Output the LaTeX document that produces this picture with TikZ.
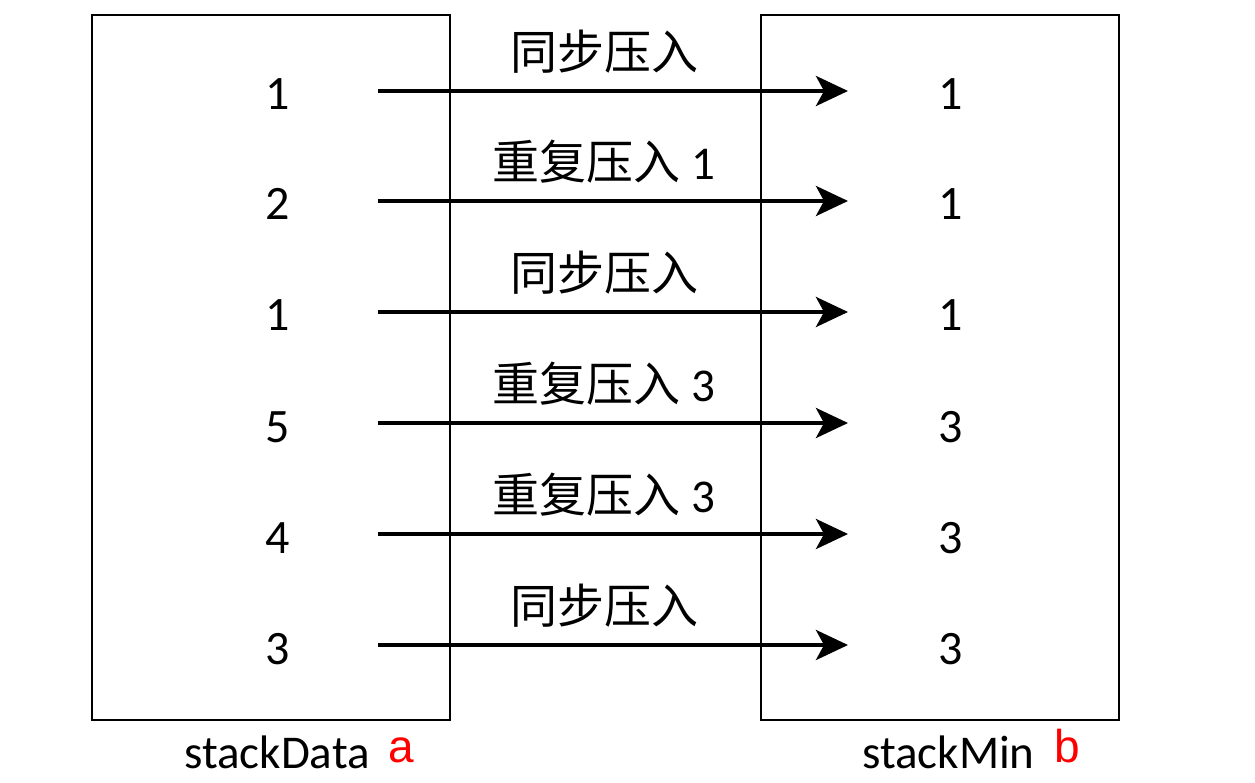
\documentclass[tikz,border=0pt]{standalone}
\usepackage{fontspec}
\setmainfont{Carlito}
\newfontfamily\cjk{Noto Sans CJK SC}
\newfontfamily\redfont{Liberation Sans}
\usetikzlibrary{arrows.meta}
\begin{document}
\begin{tikzpicture}[x=1pt,y=-1pt,
  stackbox/.style={draw=black,line width=2pt},
  num/.style={font=\fontsize{48}{52}\selectfont,anchor=base,inner sep=0pt},
  lbl/.style={font=\fontsize{47}{50}\selectfont,inner sep=0pt},
  captext/.style={font=\fontsize{47}{50}\selectfont,anchor=base west,inner sep=0pt},
  redmark/.style={font=\redfont\fontsize{46}{50}\selectfont,text=red,anchor=base west,inner sep=0pt},
  push/.style={line width=4pt,-{Stealth[length=32pt,width=30pt,inset=8pt]}}]
\useasboundingbox (0,0) rectangle (1255,783);
\node[stackbox,minimum width=358pt,minimum height=705pt,inner sep=0pt] (data) at (270.5,367.5) {};
\node[stackbox,minimum width=358pt,minimum height=705pt,inner sep=0pt] (min) at (940,367.5) {};
\foreach \i/\y/\a/\b/\t in {1/91/1/1/{\cjk 同步压入},2/201/2/1/{\cjk 重复压入} 1,3/312/1/1/{\cjk 同步压入},4/423/5/3/{\cjk 重复压入} 3,5/534/4/3/{\cjk 重复压入} 3,6/645/3/3/{\cjk 同步压入}}{
  \node[num] (l\i) at (278,\y+19) {\a};
  \node[num] (r\i) at (951,\y+19) {\b};
  \coordinate (s\i) at (378,\y);
  \coordinate (e\i) at (848,\y);
  \draw[push] (s\i) -- (e\i);
  \node[lbl] (t\i) at (604,\y-39) {\t};
}
\node[captext] (dl) at (184,768) {stackData};
\node[redmark] (da) at (388,762) {a};
\node[captext] (ml) at (862,768) {stackMin};
\node[redmark] (mb) at (1054,762) {b};
\end{tikzpicture}
\end{document}
